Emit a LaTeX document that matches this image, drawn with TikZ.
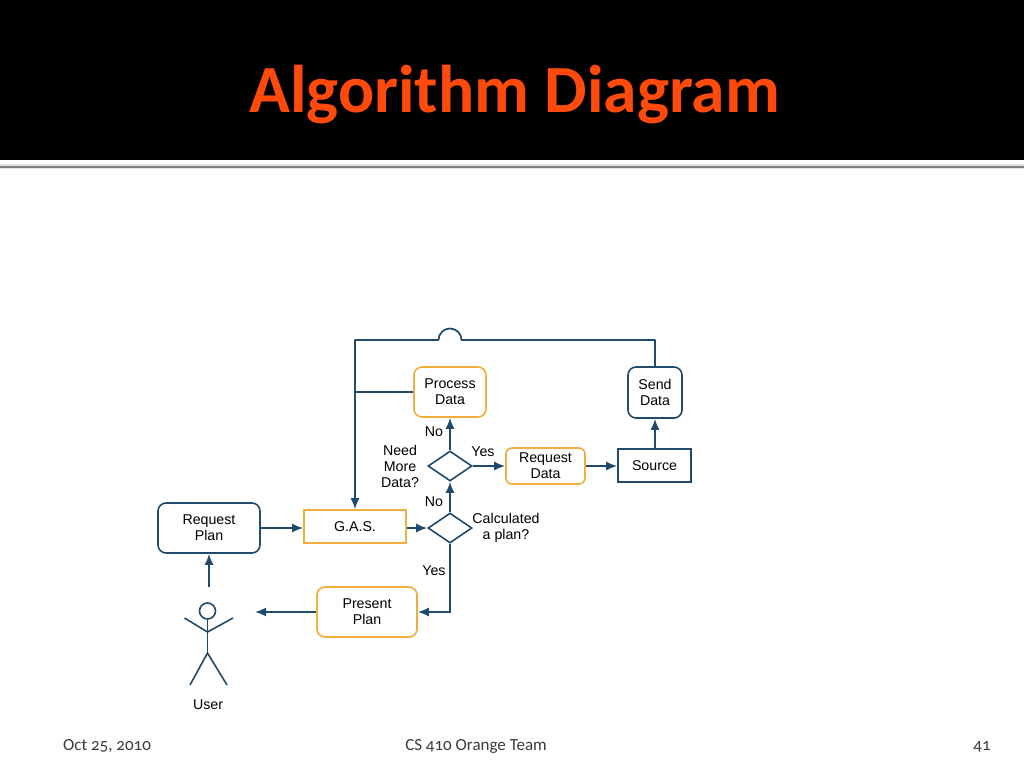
\documentclass[tikz,border=0pt]{standalone}
\usepackage{fontspec}
\setmainfont{Liberation Sans}
\newfontfamily\slidefont[Numbers=OldStyle]{Carlito}
\usepackage{tikz}
\usetikzlibrary{arrows.meta,positioning,shapes.geometric}
\definecolor{linkblue}{HTML}{1F4A6B}
\definecolor{boxorange}{HTML}{F0AE3C}
\definecolor{titleorange}{HTML}{FF4A0C}
\definecolor{footgray}{HTML}{3A3A3A}

\begin{document}
\begin{tikzpicture}[x=1pt,y=-1pt,>=Latex,
base box/.style={draw,line width=1.6pt,inner sep=0pt,align=center,font=\fontsize{14.2}{16}\selectfont},
blue round/.style={base box,draw=linkblue,rounded corners=8pt},
orange round/.style={base box,draw=boxorange,rounded corners=8pt},
orange box/.style={base box,draw=boxorange},
blue box/.style={base box,draw=linkblue},
choice/.style={draw=linkblue,line width=1.6pt,diamond,aspect=1.47,inner sep=0pt,minimum width=44pt,minimum height=30pt},
flow/.style={-{Latex[length=11pt,width=9pt]},draw=linkblue,line width=1.7pt},
link/.style={draw=linkblue,line width=1.7pt},
edge label/.style={inner sep=0pt,align=center,font=\fontsize{14.2}{16}\selectfont},
foot label/.style={inner sep=0pt,text=footgray,font=\fontsize{17}{19}\slidefont},
person/.style={draw=linkblue,line width=1.6pt}]
\useasboundingbox (0,0) rectangle (1024,768);
\fill[white] (0,0) rectangle (1024,768);
\fill[black] (0,0) rectangle (1024,160);
\fill[black!10] (0,164) rectangle (1024,169);
\fill[black!50] (0,165.5) rectangle (1024,167.5);
\node[inner sep=0pt,text=titleorange,font=\fontsize{67.5}{78}\slidefont\bfseries] (title) at (514.5,95) {Algorithm Diagram};

\node[orange round,minimum width=72pt,minimum height=50pt] (process) at (450,392) {Process\\Data};
\node[blue round,minimum width=54pt,minimum height=51pt] (send) at (655,392.5) {Send\\Data};
\node[orange round,rounded corners=6pt,minimum width=79pt,minimum height=36pt] (reqdata) at (545.5,466) {Request\\Data};
\node[blue box,minimum width=73pt,minimum height=33pt] (source) at (654.5,465.5) {Source};
\node[choice] (need) at (450,466) {};
\node[choice] (calc) at (450,528) {};
\node[orange box,minimum width=102pt,minimum height=33pt] (gas) at (355,526.5) {G.A.S.};
\node[blue round,minimum width=102pt,minimum height=50pt] (reqplan) at (209,528) {Request\\Plan};
\node[orange round,minimum width=100pt,minimum height=50pt] (present) at (367,612) {Present\\Plan};

\node[edge label] (lno1) at (434,432) {No};
\node[edge label] (lyes1) at (483,452) {Yes};
\node[edge label] (lneed) at (400,466) {Need\\More\\Data?};
\node[edge label] (lno2) at (434,501.5) {No};
\node[edge label] (lcalc) at (506,527.5) {Calculated\\a plan?};
\node[edge label] (lyes2) at (434,571) {Yes};
\node[edge label] (luser) at (208,705) {User};

\coordinate (top right) at (655,340);
\coordinate (bump right) at (461.5,340);
\coordinate (bump left) at (438.5,340);
\coordinate (top left) at (355,340);
\coordinate (joint) at (355,392);
\coordinate (corner) at (450,612);
\coordinate (user top) at (209,587);
\coordinate (user right) at (255,612);

\draw[link,line join=round] (send.north) -- (top right) -- (bump right) arc[start angle=0,end angle=-180,radius=11.5] -- (top left) -- (joint);
\draw[flow] (joint) -- (gas.north -| joint);
\draw[link] (process.west) -- (joint);
\draw[flow] (need.north) -- (process.south);
\draw[flow] (need.east) -- (reqdata.west);
\draw[flow] (reqdata.east) -- (source.west |- reqdata.east);
\draw[flow] (source.north -| send.south) -- (send.south);
\draw[flow] (calc.north) -- (need.south);
\draw[flow] (gas.east |- calc.west) -- (calc.west);
\draw[flow] (reqplan.east) -- (gas.west |- reqplan.east);
\draw[flow] (calc.south) -- (corner) -- (present.east);
\draw[flow] (present.west) -- (user right);
\draw[flow] (user top) -- (reqplan.south);

\node[draw=linkblue,line width=1.6pt,circle,inner sep=0pt,minimum size=16pt] (head) at (207.5,611) {};
\coordinate (neck) at (207.5,632);
\coordinate (hip) at (207.5,653);
\draw[person] (head.south) -- (hip);
\draw[person] (184.5,618) -- (neck) -- (233,618);
\draw[person] (190,685) -- (hip) -- (227,685);

\node[foot label] (fdate) at (107,746.5) {Oct 25, 2010};
\node[foot label] (fteam) at (476,746.5) {CS 410 Orange Team};
\node[foot label] (fpage) at (982,746.5) {41};
\end{tikzpicture}
\end{document}
